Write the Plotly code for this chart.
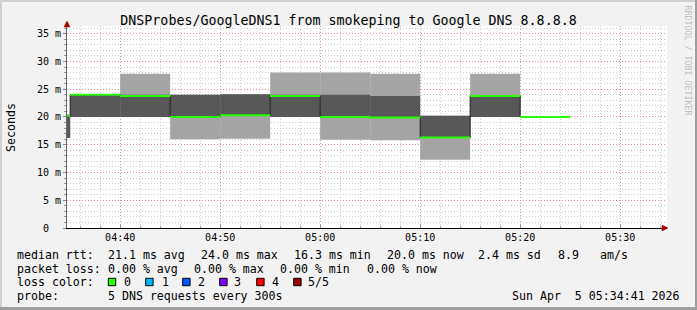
import plotly.graph_objects as go
import pandas as pd

# ---------------- data ----------------
day = "2026-04-05 "
bin_start = ["04:30", "04:35", "04:40", "04:45", "04:50", "04:55",
             "05:00", "05:05", "05:10", "05:15", "05:20"]
# sorted pings (ms): p1 lowest, p5 highest; median = p3
p1 = [16.2, 20.0, 20.0, 16.0, 16.1, 20.0, 15.9, 15.8, 12.3, 20.0, 20.0]
p2 = [16.2, 20.0, 20.0, 20.0, 20.3, 20.0, 20.0, 20.0, 16.3, 20.0, 20.0]
p4 = [20.4, 24.0, 24.0, 24.0, 24.1, 24.0, 24.0, 23.8, 20.2, 23.8, 20.0]
p5 = [20.4, 24.0, 27.8, 24.0, 24.1, 28.0, 28.0, 27.8, 20.2, 27.8, 20.0]
median = [20.2, 24.0, 23.8, 20.0, 20.3, 23.8, 20.0, 19.9, 16.3, 23.8, 20.0]

x_tick_vals = ["04:40", "04:50", "05:00", "05:10", "05:20", "05:30"]
y_tick_vals = [0, 5, 10, 15, 20, 25, 30, 35]
y_tick_text = ["0\u00a0\u00a0", "5 m", "10 m", "15 m", "20 m", "25 m", "30 m", "35 m"]

range_start = "04:34:41"
range_end = "05:34:41"

title = "DNSProbes/GoogleDNS1 from smokeping to Google DNS 8.8.8.8"
loss_labels = ["0", "1", "2", "3", "4", "5/5"]
loss_colors = ["#26ff00", "#00b8ff", "#0059ff", "#7e00ff", "#ff0000", "#a00000"]
rtt_items = ["21.1 ms avg", "24.0 ms max", "16.3 ms min", "20.0 ms now", "2.4 ms sd", "8.9", "am/s"]
loss_items = ["0.00 % avg", "0.00 % max", "0.00 % min", "0.00 % now"]
probe_text = "5 DNS requests every 300s"
stamp_text = "Sun Apr\u00a0 5 05:34:41 2026"

# ---------------- derived ----------------
step = pd.Timedelta(minutes=5)
starts = pd.to_datetime([day + s for s in bin_start])
centers = starts + step / 2
ends = starts + step

LIGHT = "#a4a4a4"
DARK = "#585858"
GREEN = "#26ff00"
MONO = "DejaVu Sans Mono"

fig = go.Figure()
fig.add_trace(go.Bar(x=centers, base=p1, y=[b - a for a, b in zip(p1, p5)],
                     width=300000, marker=dict(color=LIGHT, line=dict(width=0)),
                     hoverinfo="skip"))
fig.add_trace(go.Bar(x=centers, base=p2, y=[b - a for a, b in zip(p2, p4)],
                     width=300000, marker=dict(color=DARK, line=dict(width=0)),
                     hoverinfo="skip"))
# median step line (dark)
fig.add_trace(go.Scatter(x=list(starts) + [ends[-1]], y=median + [median[-1]],
                         mode="lines", line=dict(color="#202020", width=1, shape="hv"),
                         hoverinfo="skip"))
# loss-colour median segments
gx, gy = [], []
for s, e, m in zip(starts, ends, median):
    gx += [s, e, None]
    gy += [m, m, None]
fig.add_trace(go.Scatter(x=gx, y=gy, mode="lines",
                         line=dict(color=GREEN, width=2), hoverinfo="skip"))

# ---------------- layout helpers ----------------
L, R, T, B = 67, 667, 26, 228
W, H = 697, 310


def px(xp):
    return (xp - L) / (R - L)


def py(yp):
    return (B - yp) / (B - T)


annotations = []
shapes = []


def text(xp, yp, s, size=11.6, color="#000000", xanchor="left", angle=0):
    annotations.append(dict(x=px(xp), y=py(yp), xref="paper", yref="paper", text=s,
                            showarrow=False, xanchor=xanchor, yanchor="middle",
                            textangle=angle, borderpad=0,
                            font=dict(family=MONO, size=size, color=color)))


# legend lines
y1, y2, y3, y4 = 255, 268.5, 282, 296.3
text(16, y1, "median rtt:")
for s, xp in zip(rtt_items, [107.3, 200, 292.7, 386, 477.3, 557.3, 599.3]):
    text(xp, y1, s)
text(16, y2, "packet loss:")
for s, xp in zip(loss_items, [107.3, 193.3, 279.3, 366]):
    text(xp, y2, s)
text(16, y3, "loss color:")
for lab, col, bx, lx in zip(loss_labels, loss_colors,
                            [108.3, 145.7, 182.7, 219.7, 256.7, 293.7],
                            [123.3, 160.7, 196.7, 233.3, 270.7, 307.3]):
    shapes.append(dict(type="rect", xref="paper", yref="paper",
                       x0=px(bx), x1=px(bx + 7.4), y0=py(285.7), y1=py(278.3),
                       fillcolor=col, line=dict(color="#000000", width=1)))
    text(lx, y3, lab)
text(16, y4, "probe:")
text(107.3, y4, probe_text)
text(680.7, y4, stamp_text, xanchor="right")

# axis titles / side text
text(10.5, 127.5, "Seconds", size=11.6, xanchor="center", angle=-90)
text(687.5, 60, "RRDTOOL / TOBI OETIKER", size=8.3, color="#c0c0c0",
     xanchor="center", angle=90)

# arrows
shapes.append(dict(type="path", xref="paper", yref="paper",
                   path=f"M {px(64)} {py(27)} L {px(67)} {py(21)} L {px(70)} {py(27)} Z",
                   fillcolor="#a00000", line=dict(color="#a00000", width=0.5)))
shapes.append(dict(type="path", xref="paper", yref="paper",
                   path=f"M {px(662)} {py(225)} L {px(668)} {py(228)} L {px(662)} {py(231)} Z",
                   fillcolor="#a00000", line=dict(color="#a00000", width=0.5)))
# frame
shapes += [
    dict(type="rect", xref="paper", yref="paper", x0=px(0), x1=px(2), y0=py(W), y1=py(0),
         fillcolor="#cfcfcf", line=dict(width=0), layer="above"),
    dict(type="rect", xref="paper", yref="paper", x0=px(0), x1=px(W), y0=py(2), y1=py(0),
         fillcolor="#cfcfcf", line=dict(width=0), layer="above"),
    dict(type="rect", xref="paper", yref="paper", x0=px(695), x1=px(W), y0=py(H), y1=py(0),
         fillcolor="#9e9e9e", line=dict(width=0), layer="above"),
    dict(type="rect", xref="paper", yref="paper", x0=px(0), x1=px(W), y0=py(H), y1=py(307),
         fillcolor="#9e9e9e", line=dict(width=0), layer="above"),
]

fig.update_layout(
    width=W, height=H,
    margin=dict(l=L, r=W - R, t=T, b=H - B, pad=0),
    paper_bgcolor="#f2f2f2", plot_bgcolor="#ffffff",
    showlegend=False, barmode="overlay",
    title=dict(text=title, x=0.5, xref="container", xanchor="center",
               y=1 - 20 / H, yref="container", yanchor="middle",
               font=dict(family=MONO, size=13.3, color="#000000")),
    annotations=annotations, shapes=shapes,
    xaxis=dict(type="date", range=[day + range_start, day + range_end],
               tickvals=[day + t for t in x_tick_vals], ticktext=x_tick_vals,
               tickfont=dict(family=MONO, size=10, color="#000000"),
               showline=True, linecolor="#000000", linewidth=1,
               ticks="inside", ticklen=3, tickcolor="#888888",
               showgrid=True, gridcolor="rgba(230,130,130,0.75)", griddash="1px,2px",
               minor=dict(dtick=120000, tick0=day + "04:40", showgrid=True,
                          gridcolor="#cccccc", griddash="1px,2px",
                          ticks="inside", ticklen=2, tickcolor="#999999"),
               zeroline=False, fixedrange=True),
    yaxis=dict(range=[0, 36.39], tickvals=y_tick_vals, ticktext=y_tick_text,
               tickfont=dict(family=MONO, size=10, color="#000000"),
               showline=True, linecolor="#666666", linewidth=1,
               ticks="outside", ticklen=3, tickcolor="#888888",
               showgrid=True, gridcolor="rgba(230,130,130,0.75)", griddash="1px,2px",
               minor=dict(dtick=1, showgrid=True, gridcolor="#cccccc", griddash="1px,2px",
                          ticks="outside", ticklen=2, tickcolor="#999999"),
               zeroline=False, fixedrange=True),
)

fig.write_html("out.html")
